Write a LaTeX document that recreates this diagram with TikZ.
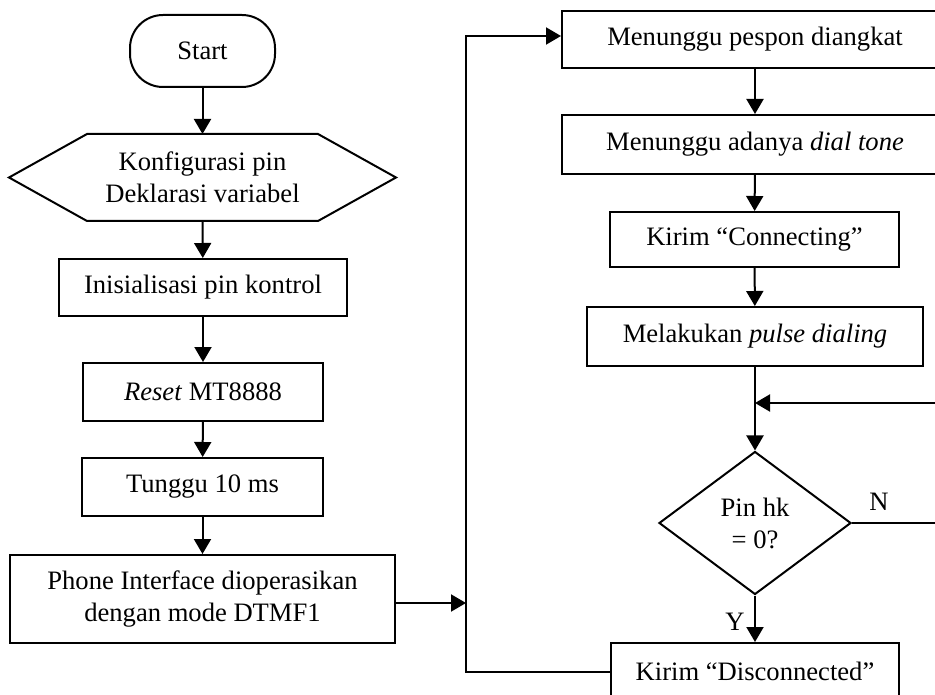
\documentclass[tikz,border=0pt]{standalone}
\usepackage{fontspec}
\setmainfont{Liberation Serif}
\usetikzlibrary{arrows.meta,shapes.geometric}
\begin{document}
\begin{tikzpicture}[x=1pt,y=-1pt,
  line width=2pt,
  every node/.style={font=\fontsize{26.6}{32}\selectfont, inner sep=0pt, align=center},
  proc/.style={draw, rectangle, minimum height=57pt},
  term/.style={draw, rectangle, rounded corners=33pt, minimum width=145pt, minimum height=72pt},
  decision/.style={draw, diamond, minimum width=192pt, minimum height=143pt},
  flow/.style={-{Triangle[length=15pt,width=17pt]}}]
\useasboundingbox (0,0) rectangle (935,695);
\clip (0,0) rectangle (935,695);

% left column
\node[term] (start) at (202.5,51) {Start};
\node[minimum width=229pt, minimum height=85pt] (conf) at (202.5,177.5) {Konfigurasi pin\\Deklarasi variabel};
\draw (conf.north west) -- (conf.north east) -- ([xshift=78pt]conf.east)
  -- (conf.south east) -- (conf.south west) -- ([xshift=-78pt]conf.west) -- cycle;
\node[proc, minimum width=288pt] (init) at (203,287.5) {Inisialisasi pin kontrol};
\node[proc, minimum width=240pt, minimum height=58pt] (reset) at (203,392) {\emph{Reset} MT8888};
\node[proc, minimum width=241pt, minimum height=58pt] (wait) at (202.5,487) {Tunggu 10 ms};
\node[proc, minimum width=385pt, minimum height=88pt] (phone) at (202.5,599) {Phone Interface dioperasikan\\dengan mode DTMF1};

% right column
\node[proc, minimum width=386pt] (hook) at (755,39.5) {Menunggu pespon diangkat};
\node[proc, minimum width=386pt, minimum height=59pt] (tone) at (755,144.5) {Menunggu adanya \emph{dial tone}};
\node[proc, minimum width=289pt, minimum height=55pt] (conn) at (754.5,239.5) {Kirim “Connecting”};
\node[proc, minimum width=336pt, minimum height=59pt] (pulse) at (755,336.5) {Melakukan \emph{pulse dialing}};
\node[decision] (hk) at (755,523) {Pin hk\\= 0?};
\node[proc, minimum width=288pt] (disc) at (755,671.5) {Kirim “Disconnected”};

% junction points
\coordinate (bus) at (466,603);
\coordinate (merge) at (755,403);
\coordinate (loopdn) at (945,523);
\coordinate (loopup) at (945,403);

% connectors, left column
\draw[flow] (start) -- (conf.north);
\draw[flow] (conf.south) -- (init);
\draw[flow] (init) -- (reset);
\draw[flow] (reset) -- (wait);
\draw[flow] (wait) -- (phone);
\draw[flow] (phone.east |- bus) -- (bus);

% return path into the dialling sequence
\draw[flow] (disc.west) -| (bus) |- ([yshift=3.5pt]hook.west);

% connectors, right column
\draw[flow] (hook) -- (tone);
\draw[flow] (tone) -- (conn);
\draw[flow] (conn) -- (pulse);
\draw[flow] (pulse) -- (hk);
\draw[flow] (hk) -- (disc);
\draw[flow] (hk.east) -- (loopdn) -- (loopup) -- (merge);
\node (ylab) at (735,622) {Y};
\node (nlab) at (879,502) {N};
\end{tikzpicture}
\end{document}
